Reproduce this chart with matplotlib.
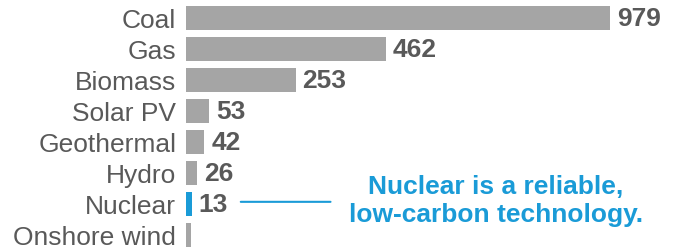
import matplotlib.pyplot as plt

categories = ['Coal', 'Gas', 'Biomass', 'Solar PV', 'Geothermal', 'Hydro', 'Nuclear', 'Onshore wind']
values = [979, 462, 253, 53, 42, 26, 13, 12]
labels = ['979', '462', '253', '53', '42', '26', '13', '']

grey = '#a5a5a5'
blue = '#1a9bd7'
text_grey = '#595959'

plt.rcParams['font.family'] = ['Liberation Sans', 'DejaVu Sans']

fig = plt.figure(figsize=(6.79, 2.51), dpi=100)
ax = fig.add_axes([186 / 679, 0, 1 - 186 / 679, 1])

colors = [blue if c == 'Nuclear' else grey for c in categories]
ypos = list(range(len(categories)))
ax.barh(ypos, values, height=0.77, color=colors)

ax.set_xlim(0, 1138)
ax.set_ylim((251 - 19) / 31, -19 / 31)

ax.set_yticks(ypos)
ax.set_yticklabels(categories, fontsize=19, color=text_grey)
ax.tick_params(axis='y', length=0, pad=7)
ax.set_xticks([])
for s in ax.spines.values():
    s.set_visible(False)

for y, v, lab in zip(ypos, values, labels):
    if lab:
        ax.annotate(lab, (v, y), xytext=(5, 0), textcoords='offset points',
                    va='center', ha='left', fontsize=19, fontweight='bold',
                    color=text_grey)

# callout for nuclear
ny = categories.index('Nuclear')
ax.annotate('', xy=(120, ny - 0.07), xytext=(340, ny - 0.07),
            arrowprops=dict(arrowstyle='-', color=blue, lw=1.5))
ax.text(715, ny - 0.13, 'Nuclear is a reliable,\nlow-carbon technology.',
        ha='center', va='center', fontsize=19, fontweight='bold', color=blue,
        linespacing=1.2)

fig.savefig('out.png', dpi=100)
